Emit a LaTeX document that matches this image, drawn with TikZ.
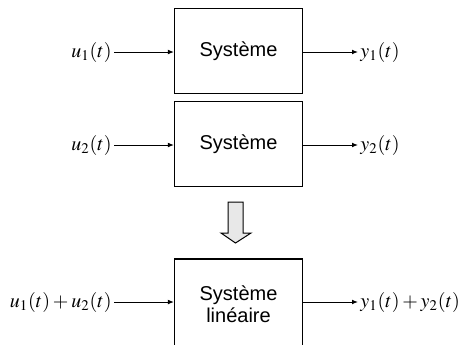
\documentclass[tikz,border=0pt]{standalone}
\usepackage{mathptmx}
\usepackage[no-math]{fontspec}
\setsansfont{Liberation Sans}
\usetikzlibrary{arrows.meta,positioning}

\tikzset{
  bloc/.style={draw, line width=0.6pt, minimum width=64pt, minimum height=42.5pt,
    font=\sffamily, align=center},
  sig/.style={inner sep=1pt},
  fleche/.style={-{Latex[length=3pt,width=2.4pt]}, line width=0.5pt}
}

\begin{document}
\begin{tikzpicture}[x=0.5pt, y=-0.5pt]
  \useasboundingbox (0,0) rectangle (461,344);

  % deux essais séparés
  \node[bloc] (sys1) at (238.5,51) {Système};
  \node[bloc] (sys2) at (238.5,144) {Système};
  \node[sig, anchor=east] (u1) at (114,52) {$u_1(t)$};
  \node[sig, anchor=west] (y1) at (358,52) {$y_1(t)$};
  \node[sig, anchor=east] (u2) at (114,145) {$u_2(t)$};
  \node[sig, anchor=west] (y2) at (358,145) {$y_2(t)$};
  \draw[fleche] (u1) -- (u1 -| sys1.west);
  \draw[fleche] (y1 -| sys1.east) -- (y1);
  \draw[fleche] (u2) -- (u2 -| sys2.west);
  \draw[fleche] (y2 -| sys2.east) -- (y2);

  % implication
  \draw[line width=0.5pt, fill=gray!18]
    (228,202) -- (243,202) -- (243,233) -- (251,233) -- (235.5,243)
    -- (221,233) -- (228,233) -- cycle;

  % superposition (bas du bloc hors cadre)
  \node[bloc, minimum height=45pt] (sys3) at (238.5,304) {Système\\[-1pt]linéaire};
  \node[sig, anchor=east] (u3) at (114,302) {$u_1(t) + u_2(t)$};
  \node[sig, anchor=west] (y3) at (358,302) {$y_1(t) + y_2(t)$};
  \draw[fleche] (u3) -- (u3 -| sys3.west);
  \draw[fleche] (y3 -| sys3.east) -- (y3);
\end{tikzpicture}
\end{document}
